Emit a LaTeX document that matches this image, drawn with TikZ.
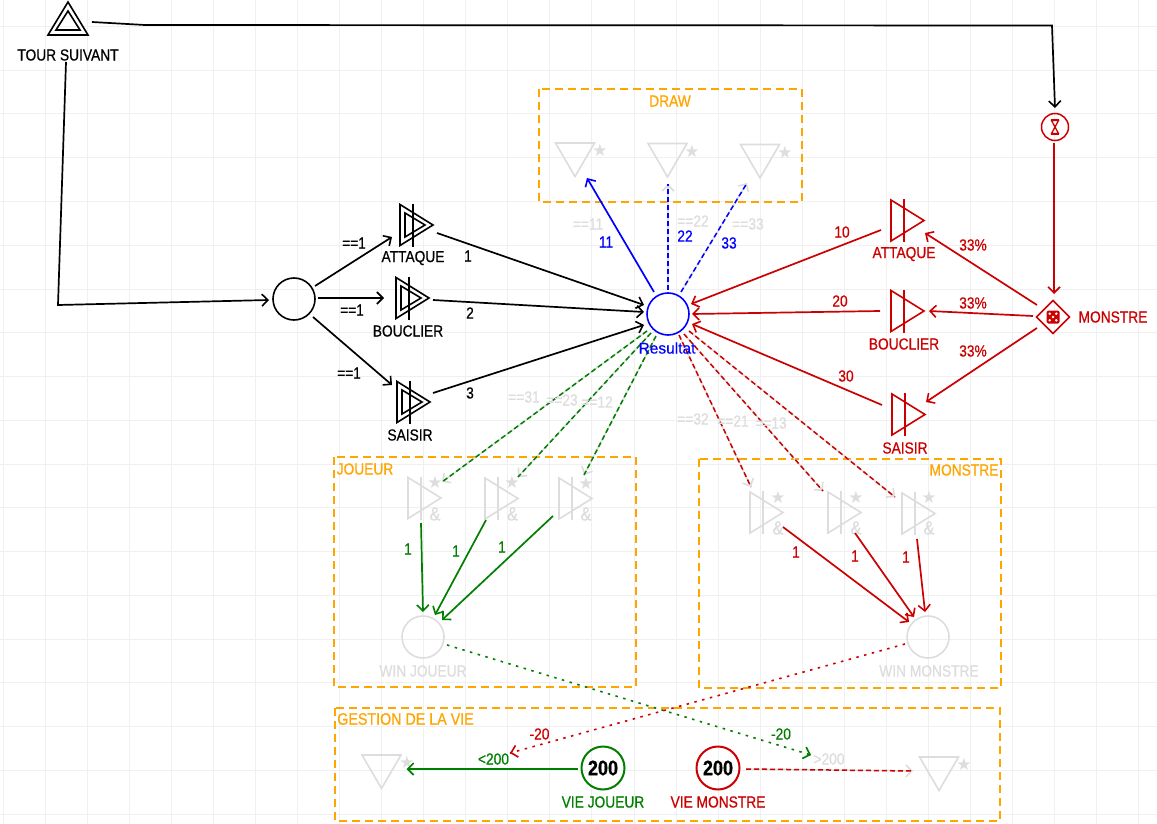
\documentclass[tikz,border=0pt]{standalone}
\usepackage{fontspec}
\setmainfont[FakeStretch=0.86,FakeBold=0.6]{Liberation Sans}
\newfontfamily\widefont[FakeBold=0.6]{Liberation Sans}
\newfontfamily\symfont{DejaVu Sans}
\usetikzlibrary{calc,arrows.meta}
\definecolor{cred}{HTML}{CC0000}
\definecolor{cgreen}{HTML}{007F00}
\definecolor{cblue}{HTML}{0000FF}
\definecolor{corange}{HTML}{FFA500}
\definecolor{cgray}{HTML}{DDDDDD}
\definecolor{cgrid}{HTML}{F0F0F0}
\tikzset{
  lab/.style={inner sep=0pt,font=\fontsize{16}{18}\selectfont},
  ghost/.style={lab,text=cgray},
  starmark/.style={inner sep=0pt,text=cgray,font=\symfont\fontsize{17}{18}\selectfont},
  ampmark/.style={inner sep=0pt,text=cgray,font=\fontsize{19}{20}\selectfont},
  ring/.style={circle,draw,line width=1.6pt,minimum size=42pt,inner sep=0pt},
  barbtip/.style={-{Straight Barb[length=6pt,width=12pt,line width=1.6pt]}},
  link/.style={line width=1.7pt,barbtip},
  flow/.style={line width=1.5pt,dash pattern=on 5pt off 3pt,
     preaction={draw=cgray,solid,line width=1.5pt,barbtip}},
  dots/.style={line width=1.6pt,dash pattern=on 2.5pt off 5.5pt},
  panel/.style={draw=corange,line width=1.6pt,dash pattern=on 8pt off 5pt},
  shp/.style={line width=1.6pt,line join=miter}
}
\newcommand{\gate}[4]{% colour, name, x, y
  \coordinate (#2) at (#3,#4);
  \draw[shp,#1] ($(#2)+(-13,-20.5)$) -- ($(#2)+(20,0)$) -- ($(#2)+(-13,20.5)$) -- cycle;
  \draw[shp,#1] ($(#2)+(0,-21.5)$) -- ($(#2)+(0,21.5)$);
}
\newcommand{\innergate}[1]{%
  \draw[shp] ($(#1)+(-8,-12)$) -- ($(#1)+(12,0)$) -- ($(#1)+(-8,12)$) -- cycle;
}
\newcommand{\tridown}[3]{% name, x, y
  \coordinate (#1) at (#2,#3);
  \draw[shp,cgray] ($(#1)+(-19.5,-17)$) -- ($(#1)+(19.5,-17)$) -- ($(#1)+(0,16.5)$) -- cycle;
}
\begin{document}
\begin{tikzpicture}[x=1pt,y=-1pt]
\useasboundingbox (0,0) rectangle (1157,824);
\fill[white] (0,0) rectangle (1157,824);
\foreach \k in {0,...,27} \draw[cgrid,line width=1pt] ({3+42.07*\k},0) -- ({3+42.07*\k},824);
\foreach \k in {0,...,18} \draw[cgrid,line width=1pt] (0,{26.5+43.75*\k}) -- (1157,{26.5+43.75*\k});

% panels
\draw[panel] (539,89) rectangle (802,202);
\draw[panel] (334,457) rectangle (636,687);
\draw[panel] (699,459) rectangle (1001,688);
\draw[panel] (335,708) rectangle (1000,821);
\node[lab,text=corange] (tdraw) at (670,101) {DRAW};
\node[lab,text=corange] (tjou) at (365,469) {JOUEUR};
\node[lab,text=corange] (tmon) at (964,470) {MONSTRE};
\node[lab,text=corange,font=\fontsize{16.6}{18}\selectfont] (tvie) at (405.5,719) {GESTION DE LA VIE};

% tour suivant
\coordinate (tour) at (68,22);
\draw[shp] ($(tour)+(0,-20)$) -- ($(tour)+(20,13)$) -- ($(tour)+(-20,13)$) -- cycle;
\draw[shp] ($(tour)+(0,-11)$) -- ($(tour)+(12,8)$) -- ($(tour)+(-12,8)$) -- cycle;
\node[lab] (ttour) at (68,55) {TOUR SUIVANT};

% black gates
\node[ring] (hub) at (294,299) {};
\gate{black}{gA}{413}{225}\innergate{gA}
\gate{black}{gB}{409}{298}\innergate{gB}
\gate{black}{gS}{410}{402}\innergate{gS}
\node[lab] (tgA) at (413,258) {ATTAQUE};
\node[lab] (tgB) at (408,331) {BOUCLIER};
\node[lab] (tgS) at (410,435) {SAISIR};

% resultat
\node[ring,draw=cblue] (res) at (668,314) {};

% draw triangles
\tridown{dA}{575}{160}
\tridown{dB}{667.5}{160.5}
\tridown{dC}{760}{161.5}
\node[starmark] (sdA) at (600,150) {★};
\node[starmark] (sdB) at (692,151) {★};
\node[starmark] (sdC) at (785,152) {★};

% red gates
\gate{cred}{rA}{904}{220.5}
\gate{cred}{rB}{904}{311}
\gate{cred}{rS}{905}{414.5}
\node[lab,text=cred] (trA) at (904,254) {ATTAQUE};
\node[lab,text=cred] (trB) at (904,344) {BOUCLIER};
\node[lab,text=cred] (trS) at (905,448) {SAISIR};

% timer
\node[circle,draw=cred,line width=1.5pt,minimum size=27pt,inner sep=0pt] (tm) at (1055,127) {};
\draw[cred,line width=1.3pt,line join=miter] ($(tm)+(-3.5,-6.5)$) -- ($(tm)+(3.5,-6.5)$) -- ($(tm)+(-3.5,6.5)$) -- ($(tm)+(3.5,6.5)$) -- cycle;
\draw[cred,line width=1.8pt] ($(tm)+(-4,-7)$) -- ($(tm)+(4,-7)$) ($(tm)+(-4,7)$) -- ($(tm)+(4,7)$);

% dice diamond
\coordinate (dm) at (1053,317);
\draw[shp,cred] ($(dm)+(0,-16.5)$) -- ($(dm)+(16.5,0)$) -- ($(dm)+(0,16.5)$) -- ($(dm)+(-16.5,0)$) -- cycle;
\fill[cred,rounded corners=1.5pt] ($(dm)+(-6.5,-6.5)$) rectangle ($(dm)+(6.5,6.5)$);
\foreach \a/\b in {-3.3/-3.3,3.3/-3.3,-3.3/3.3,3.3/3.3,0/0}
  \fill[white] ($(dm)+(\a,\b)$) circle (1.4pt);
\node[lab,text=cred] (tdm) at (1113,317) {MONSTRE};

% joueur gates
\gate{cgray}{jA}{421}{498}
\gate{cgray}{jB}{498}{498.5}
\gate{cgray}{jC}{572}{498.5}
\node[starmark] (sjA) at (435,482) {★};
\node[starmark] (sjB) at (512,482) {★};
\node[starmark] (sjC) at (586,483) {★};
\node[ampmark] (ajA) at (435,514) {\&};
\node[ampmark] (ajB) at (512.5,514) {\&};
\node[ampmark] (ajC) at (586,514) {\&};
\node[ring,draw=cgray] (wj) at (423,637) {};
\node[ghost] (twj) at (423,671) {WIN JOUEUR};

% monstre gates
\gate{cgray}{mA}{763}{512.5}
\gate{cgray}{mB}{841}{512.5}
\gate{cgray}{mC}{915}{513.5}
\node[starmark] (smA) at (778,497) {★};
\node[starmark] (smB) at (856,497) {★};
\node[starmark] (smC) at (929,497) {★};
\node[ampmark] (amA) at (778,528) {\&};
\node[ampmark] (amB) at (856,528) {\&};
\node[ampmark] (amC) at (929,528) {\&};
\node[ring,draw=cgray] (wm) at (928,637) {};
\node[ghost] (twm) at (929,671) {WIN MONSTRE};

% vie
\tridown{tl}{381.5}{772}
\tridown{tr}{939}{774}
\node[starmark] (stl) at (407,762) {★};
\node[starmark] (str) at (964,764) {★};
\node[ring,draw=cgreen,line width=2pt,minimum size=43pt,font=\bfseries\fontsize{21}{22}\selectfont] (vj) at (603,768) {200};
\node[ring,draw=cred,line width=2pt,minimum size=43pt,font=\bfseries\fontsize{21}{22}\selectfont] (vm) at (718,768) {200};
\node[lab,text=cgreen] (tvj) at (603,802) {VIE JOUEUR};
\node[lab,text=cred] (tvm) at (718,802) {VIE MONSTRE};

% free corners and free ends
\coordinate (e1) at (58,305);
\coordinate (e2) at (145,25);
\coordinate (e3) at (1052,25.5);
\coordinate (gd) at (811,755);
\coordinate (rd) at (510,753);

% black connectors
\draw[link] ($(tour)+(24,0)$) -- (e2) -- (e3) -- ($(tm)+(0,-19)$);
\draw[link] ($(tour)+(-2,40)$) -- (e1) -- ($(hub)+(-25,1)$);
\draw[link] ($(hub)+(21,-13)$) -- ($(gA)+(-21,12)$);
\draw[link] ($(hub)+(24,-1)$) -- ($(gB)+(-25,0)$);
\draw[link] ($(hub)+(19,18)$) -- ($(gS)+(-18,-17)$);
\draw[link] ($(gA)+(24,8)$) -- ($(res)+(-24,-9)$);
\draw[link] ($(gB)+(24,2)$) -- ($(res)+(-24,-2)$);
\draw[link] ($(gS)+(23,-9)$) -- ($(res)+(-24,11)$);

% blue connectors
\draw[link,cblue] ($(res)+(-14,-22)$) -- ($(dA)+(12,18)$);
\draw[flow,cblue] ($(res)+(0,-24)$) -- ($(dB)+(0.5,23.5)$);
\draw[flow,cblue] ($(res)+(13,-22)$) -- ($(dC)+(-13,21.5)$);

% red connectors
\draw[link,cred] ($(tm)+(-1,16)$) -- ($(dm)+(1,-23)$);
\draw[link,cred] ($(dm)+(-16,-12)$) -- ($(rA)+(21,12.5)$);
\draw[link,cred] ($(dm)+(-20,-1)$) -- ($(rB)+(25,0)$);
\draw[link,cred] ($(dm)+(-16,11)$) -- ($(rS)+(21,-12.5)$);
\draw[link,cred] ($(rA)+(-23,9.5)$) -- ($(res)+(23,-10)$);
\draw[link,cred] ($(rB)+(-24,0)$) -- ($(res)+(24,0)$);
\draw[link,cred] ($(rS)+(-23,-9.5)$) -- ($(res)+(24,10)$);

% dashed to joueur and monstre
\draw[flow,cgreen] ($(res)+(-21,17)$) -- ($(jA)+(21,-16)$);
\draw[flow,cgreen] ($(res)+(-17,19)$) -- ($(jB)+(20,-21.5)$);
\draw[flow,cgreen] ($(res)+(-12,22)$) -- ($(jC)+(12,-23.5)$);
\draw[flow,cred] ($(res)+(11,21)$) -- ($(mA)+(-12,-25.5)$);
\draw[flow,cred] ($(res)+(16,20)$) -- ($(mB)+(-18,-21.5)$);
\draw[flow,cred] ($(res)+(21,17)$) -- ($(mC)+(-20,-16.5)$);

\node[inner sep=0pt,text=cblue,fill=none,font=\widefont\fontsize{15.5}{17}\selectfont] (tres) at (667,348) {Resultat};

% solid to win
\draw[link,cgreen] ($(jA)+(0,25)$) -- ($(wj)+(0,-25)$);
\draw[link,cgreen] ($(jB)+(-12,21.5)$) -- ($(wj)+(12,-22)$);
\draw[link,cgreen] ($(jC)+(-19,17.5)$) -- ($(wj)+(19,-17)$);
\draw[link,cred] ($(mA)+(20,14.5)$) -- ($(wm)+(-19,-15)$);
\draw[link,cred] ($(mB)+(14,20.5)$) -- ($(wm)+(-14,-20)$);
\draw[link,cred] ($(mC)+(2,25.5)$) -- ($(wm)+(-3,-25)$);

% dotted and vie connectors
\draw[dots,cgreen] ($(wj)+(24,8)$) -- (gd);
\draw[link,cgreen] ($(gd)+(-0.6,-0.2)$) -- (gd);
\draw[dots,cred] ($(wm)+(-23,7)$) -- (rd);
\draw[link,cred] ($(rd)+(0.6,-0.15)$) -- (rd);
\draw[link,cgreen,line width=2pt] ($(vj)+(-25,1)$) -- ($(tl)+(25,-3)$);
\draw[flow,cred] ($(vm)+(28,1)$) -- ($(tr)+(-26,-3)$);

% connector labels
\node[lab] (l1) at (354,243) {==1};
\node[lab] (l2) at (352,310) {==1};
\node[lab] (l3) at (349,373) {==1};
\node[lab] (n1) at (468,256) {1};
\node[lab] (n2) at (470,313) {2};
\node[lab] (n3) at (470,393) {3};
\node[ghost] (e11) at (588,224) {==11};
\node[ghost] (e22) at (693,221) {==22};
\node[ghost] (e33) at (748,224) {==33};
\node[lab,text=cblue] (n11) at (606,242) {11};
\node[lab,text=cblue] (n22) at (685,236) {22};
\node[lab,text=cblue] (n33) at (729,243) {33};
\node[lab,text=cred] (n10) at (842,232) {10};
\node[lab,text=cred] (n20) at (840,301) {20};
\node[lab,text=cred] (n30) at (846,376) {30};
\node[lab,text=cred] (p1) at (973,245) {33\%};
\node[lab,text=cred] (p2) at (973,303) {33\%};
\node[lab,text=cred] (p3) at (973,351) {33\%};
\node[ghost] (e31) at (524,397) {==31};
\node[ghost] (e23) at (562,400) {==23};
\node[ghost] (e12) at (597,402) {==12};
\node[ghost] (e32) at (693,419) {==32};
\node[ghost] (e21) at (733,421) {==21};
\node[ghost] (e13) at (771,423) {==13};
\node[lab,text=cgreen] (a1) at (408,549) {1};
\node[lab,text=cgreen] (a2) at (456,551) {1};
\node[lab,text=cgreen] (a3) at (502,547) {1};
\node[lab,text=cred] (b1) at (796,552) {1};
\node[lab,text=cred] (b2) at (855,556) {1};
\node[lab,text=cred] (b3) at (906,557) {1};
\node[lab,text=cgreen] (m1) at (781,734) {-20};
\node[lab,text=cred] (m2) at (539.5,734) {-20};
\node[lab,text=cgreen] (lt) at (493.5,759) {<200};
\node[ghost] (gt) at (829,759) {>200};
\end{tikzpicture}
\end{document}
